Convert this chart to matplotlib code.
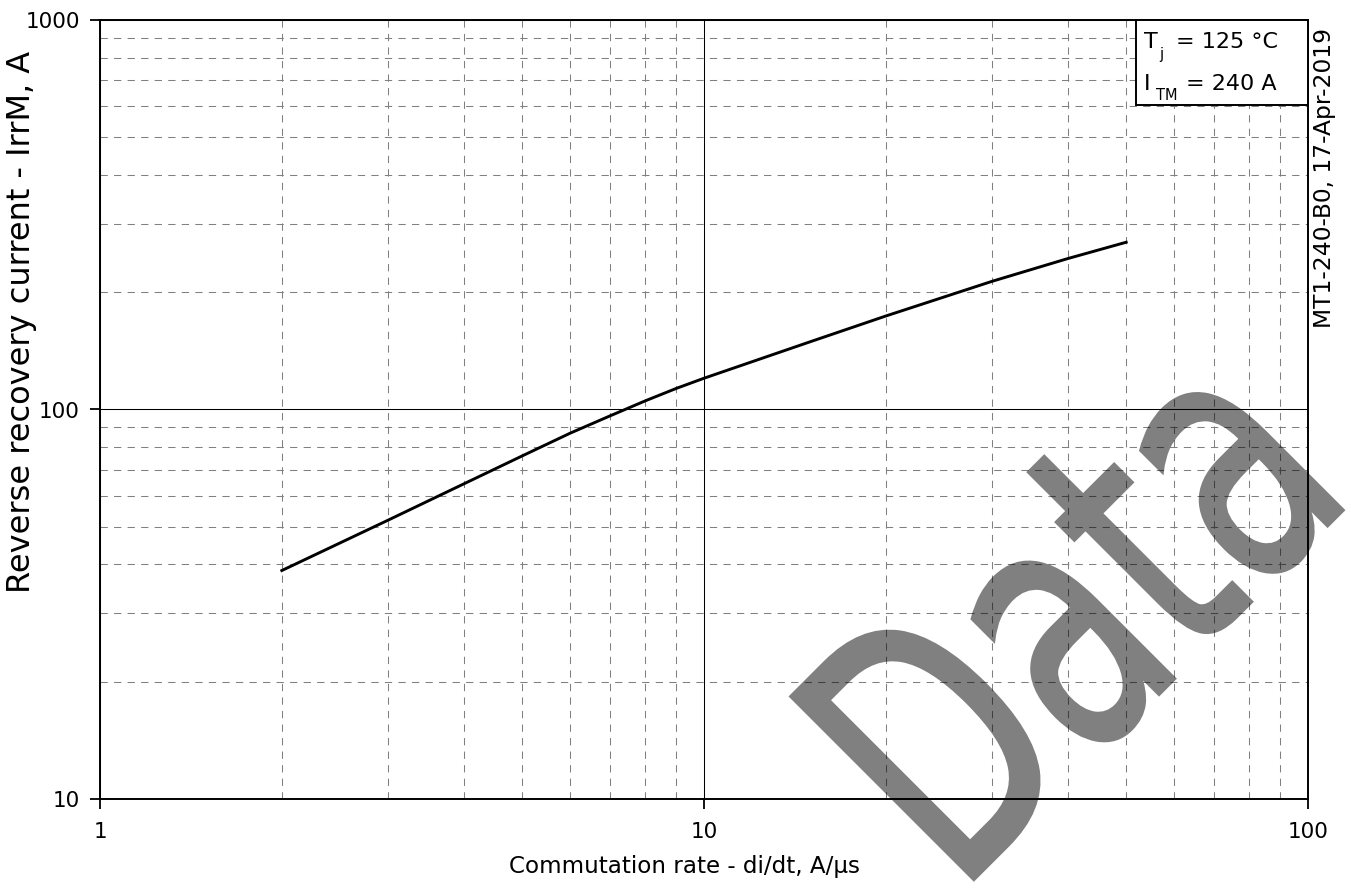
import matplotlib
matplotlib.use("Agg")
import matplotlib.pyplot as plt
from matplotlib.ticker import FixedLocator, NullFormatter, FixedFormatter
from matplotlib.textpath import TextPath
from matplotlib.patches import PathPatch, Rectangle
from matplotlib.font_manager import FontProperties
from matplotlib.transforms import Affine2D

# Reverse recovery current vs. commutation rate
di_dt = [2, 3, 4, 5, 6, 7, 8, 9, 10, 15, 20, 30, 40, 50]
irrm = [38.6, 52.0, 64.4, 76.0, 86.9, 96.4, 105.3, 113.3, 120.3, 149.3, 173.8, 213.4, 244.0, 268.8]

x_major = [1, 10, 100]
x_major_labels = ["1", "10", "100"]
y_major = [10, 100, 1000]
y_major_labels = ["10", "100", "1000"]
x_minor = [m * d for d in (1, 10) for m in range(2, 10)]
y_minor = [m * d for d in (10, 100) for m in range(2, 10)]

x_label = "Commutation rate - di/dt, A/µs"
y_label = "Reverse recovery current - IrrM, A"
# (symbol, subscript, value text) for the test-condition box
cond_rows = [("T", "j", "= 125 °C"), ("I", "TM", "= 240 A")]
doc_id = "MT1-240-B0, 17-Apr-2019"
mark = "Data"

plt.rcParams["font.family"] = ["DejaVu Sans"]

W, H = 1351, 888
fig = plt.figure(figsize=(W / 100, H / 100), dpi=100, facecolor="white")
ax = fig.add_axes([100 / W, 89 / H, 1208 / W, 779 / H])

ax.set_xscale("log")
ax.set_yscale("log")
ax.set_xlim(1, 100)
ax.set_ylim(10, 1000)

ax.xaxis.set_major_locator(FixedLocator(x_major))
ax.xaxis.set_major_formatter(FixedFormatter(x_major_labels))
ax.yaxis.set_major_locator(FixedLocator(y_major))
ax.yaxis.set_major_formatter(FixedFormatter(y_major_labels))
ax.xaxis.set_minor_locator(FixedLocator(x_minor))
ax.yaxis.set_minor_locator(FixedLocator(y_minor))
ax.xaxis.set_minor_formatter(NullFormatter())
ax.yaxis.set_minor_formatter(NullFormatter())

ax.grid(which="major", color="black", linewidth=0.75, linestyle="-")
ax.grid(which="minor", color="#808080", linewidth=0.75, linestyle=(0, (7, 6)))
ax.set_axisbelow(True)

ax.tick_params(which="major", direction="out", length=7.2, width=1.3,
               labelsize=15.5, color="black")
ax.tick_params(axis="y", which="major", pad=7.2)
ax.tick_params(axis="x", which="major", pad=9.5)
ax.tick_params(which="minor", length=0)

for s in ax.spines.values():
    s.set_linewidth(1.4)
    s.set_color("black")

ax.plot(di_dt, irrm, color="black", linewidth=2.1, zorder=3)

ax.set_xlabel(x_label, fontsize=16.6)
ax.xaxis.label.set_va("baseline")
ax.xaxis.set_label_coords((684 - 100) / 1208, -(873 - 799) / 779)
ax.set_ylabel(y_label, fontsize=23)
ax.yaxis.set_label_coords(-(100 - 37) / 1208, (799 - 322) / 779)

# Test conditions box
box = Rectangle((1136 / W, (H - 105) / H), 172 / W, 85 / H,
                transform=fig.transFigure, facecolor="white",
                edgecolor="black", linewidth=1.4, zorder=4)
fig.add_artist(box)

row_layout = [  # x of symbol, subscript, value; baselines of main and subscript
    (1144, 1159, 1176, 48, 59),
    (1144, 1156, 1186, 90, 100),
]
for (sym, sub, val), (xs, xb, xv, yb, ysb) in zip(cond_rows, row_layout):
    fig.text(xs / W, (H - yb) / H, sym, fontsize=16, ha="left", va="baseline", zorder=5)
    fig.text(xb / W, (H - ysb) / H, sub, fontsize=10.5, ha="left", va="baseline", zorder=5)
    fig.text(xv / W, (H - yb) / H, val, fontsize=16, ha="left", va="baseline", zorder=5)

fig.text(1324 / W, (H - 28) / H, doc_id, rotation=90, ha="center",
         va="top", fontsize=16.8, zorder=5)


# Translucent diagonal watermark, drawn over everything.  The glyphs are
# rendered opaque (fill + outline) and then faded as a whole so that the
# outline and fill do not double up.
def fade_half(img, dpi):
    out = img.copy()
    out[..., 3] *= 0.5
    return out, 0, 0


tp = TextPath((0, 0), mark, size=1, prop=FontProperties(family="DejaVu Sans"))
em_in = 3.54
wm = (Affine2D().scale(em_in * 0.67, em_in).rotate_deg(45)
      .translate(9.574, -0.074))
wm_patch = PathPatch(wm.transform_path(tp), facecolor="black",
                     edgecolor="black", linewidth=2.9, joinstyle="miter",
                     transform=fig.dpi_scale_trans, zorder=10)
wm_patch.set_agg_filter(fade_half)
fig.add_artist(wm_patch)

fig.savefig("out.png", dpi=100, facecolor="white")
